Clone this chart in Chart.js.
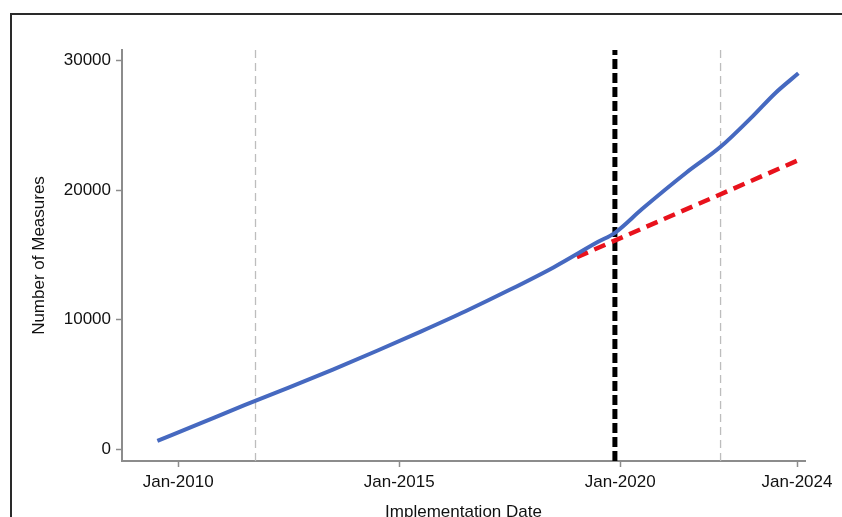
<!DOCTYPE html>
<html>
<head>
<meta charset="utf-8">
<title>Number of Measures</title>
<script src="https://cdn.jsdelivr.net/npm/chart.js@4.4.1/dist/chart.umd.min.js"></script>
<style>
    html, body {
        margin: 0;
        padding: 0;
        background: #fff;
        overflow: hidden;
        width: 842px;
        height: 517px;
    }
    .frame {
        position: absolute;
        left: 10px;
        top: 13px;
        width: 850px;
        height: 530px;
        border: 2px solid #2a2a2a;
        box-sizing: border-box;
    }
    #measuresChart {
        position: absolute;
        left: 0;
        top: 0;
    }
</style>
</head>
<body>
<div class="frame"></div>
<canvas id="measuresChart" width="842" height="530"></canvas>

<script>
// Data (x = decimal year)
const observedYears = [2009.53, 2010.5, 2011.5, 2012.5, 2013.5, 2014.5, 2015.5, 2016.5, 2017.5, 2018.5,
    2019.5, 2019.88, 2020.5, 2021.5, 2022.27, 2023.0, 2023.5, 2024.03];
const observedMeasures = [640, 2000, 3400, 4750, 6150, 7600, 9100, 10650, 12300, 14050,
    16000, 16700, 18550, 21350, 23330, 25700, 27450, 29000];

const projectedYears = [2019.02, 2024.03];
const projectedMeasures = [14820, 22300];

const periodMarkers = [2011.75, 2022.27];
const cutoffMarker = 2019.88;

const xTickYears = [2010, 2015, 2020, 2024];
const yTickValues = [0, 10000, 20000, 30000];

const X_MIN = 2008.73;
const X_MAX = 2024.18;
const Y_MIN = -905;
const Y_MAX = 30800;

function toPoints(xs, ys) {
    return xs.map((x, i) => ({ x: x, y: ys[i] }));
}

function verticalLine(x) {
    return [{ x: x, y: Y_MIN }, { x: x, y: Y_MAX }];
}

const axisColor = '#8c8c8c';
const textColor = '#111';
const fontFamily = '"Liberation Sans", Arial, Helvetica, sans-serif';

const datasets = [
    {
        label: 'Observed',
        data: toPoints(observedYears, observedMeasures),
        borderColor: '#4669c0',
        borderWidth: 4,
        cubicInterpolationMode: 'monotone',
        pointRadius: 0,
        order: 0
    },
    {
        label: 'Projected',
        data: toPoints(projectedYears, projectedMeasures),
        borderColor: '#e8121c',
        borderWidth: 4.5,
        borderDash: [12, 7],
        pointRadius: 0,
        order: 1
    },
    {
        label: 'Cutoff',
        data: verticalLine(cutoffMarker),
        borderColor: '#000',
        borderWidth: 5,
        borderDash: [10, 4],
        pointRadius: 0,
        order: 2
    }
];

periodMarkers.forEach(year => {
    datasets.push({
        label: 'Period',
        data: verticalLine(year),
        borderColor: '#bdbdbd',
        borderWidth: 1.3,
        borderDash: [8, 5],
        pointRadius: 0,
        order: 3
    });
});

const ctx = document.getElementById('measuresChart').getContext('2d');
new Chart(ctx, {
    type: 'line',
    data: { datasets: datasets },
    options: {
        responsive: false,
        animation: false,
        devicePixelRatio: 1,
        layout: {
            padding: { top: 50, right: 37, left: 0, bottom: 0 }
        },
        plugins: {
            legend: { display: false },
            tooltip: { enabled: false }
        },
        scales: {
            x: {
                type: 'linear',
                min: X_MIN,
                max: X_MAX,
                afterBuildTicks: scale => {
                    scale.ticks = xTickYears.map(v => ({ value: v }));
                },
                afterFit: scale => {
                    scale.height = 69;
                },
                ticks: {
                    color: textColor,
                    font: { family: fontFamily, size: 17 },
                    padding: 5,
                    maxRotation: 0,
                    callback: value => 'Jan-' + value
                },
                grid: {
                    drawOnChartArea: false,
                    drawTicks: true,
                    tickLength: 6,
                    tickColor: axisColor,
                    tickWidth: 1.5
                },
                border: { display: true, color: axisColor, width: 2 },
                title: {
                    display: true,
                    text: 'Implementation Date',
                    color: textColor,
                    font: { family: fontFamily, size: 17 },
                    padding: { top: 0, bottom: 7 }
                }
            },
            y: {
                type: 'linear',
                min: Y_MIN,
                max: Y_MAX,
                afterBuildTicks: scale => {
                    scale.ticks = yTickValues.map(v => ({ value: v }));
                },
                afterFit: scale => {
                    scale.width = 122;
                },
                ticks: {
                    color: textColor,
                    font: { family: fontFamily, size: 17 },
                    padding: 5,
                    callback: value => String(value)
                },
                grid: {
                    drawOnChartArea: false,
                    drawTicks: true,
                    tickLength: 6,
                    tickColor: axisColor,
                    tickWidth: 1.5
                },
                border: { display: true, color: axisColor, width: 2 },
                title: {
                    display: true,
                    text: 'Number of Measures',
                    color: textColor,
                    font: { family: fontFamily, size: 17 },
                    padding: { top: 29, bottom: 0 }
                }
            }
        }
    }
});
</script>
</body>
</html>
